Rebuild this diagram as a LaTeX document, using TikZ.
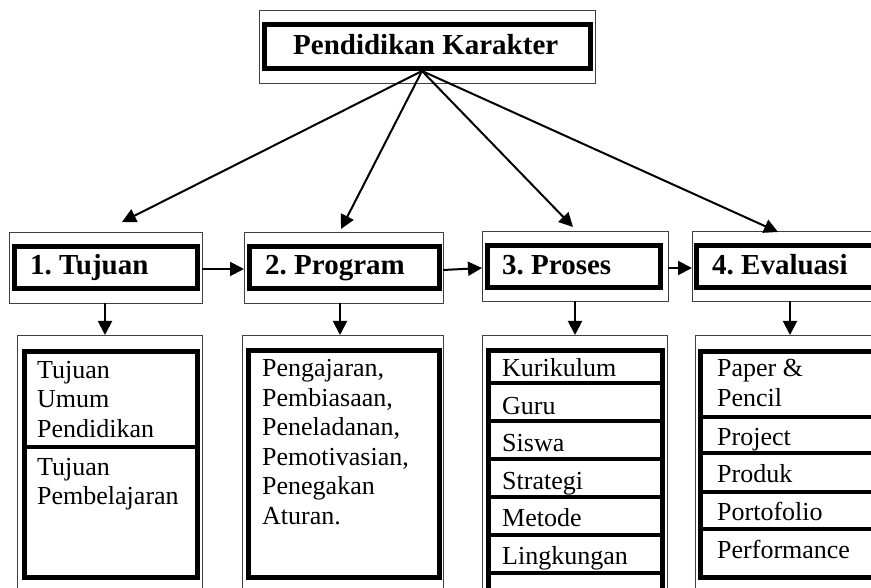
\documentclass[tikz,border=0pt]{standalone}
\usepackage{fontspec}
\setmainfont{Liberation Serif}
\frenchspacing
\usetikzlibrary{arrows.meta}
\tikzset{
  thinbox/.style={draw=black!75, line width=0.9pt, inner sep=0pt, outer sep=0pt},
  thickbox/.style={draw=black, line width=5pt, inner sep=0pt, outer sep=0pt},
  divline/.style={draw=black, line width=4.5pt},
  headtext/.style={inner sep=0pt, anchor=base west, font=\fontsize{29}{32}\selectfont\bfseries},
  bodytext/.style={inner sep=0pt, anchor=base west, font=\fontsize{26}{29.5}\selectfont},
  arr/.style={draw=black, line width=2pt, -{Triangle[length=14pt,width=14pt]}},
}
\begin{document}
\begin{tikzpicture}[x=1pt,y=-1pt]
\useasboundingbox (0,0) rectangle (871,588);
\clip (0,0) rectangle (871,588);
\fill[white] (0,0) rectangle (871,588);

% top box
\node[thinbox, minimum width=336pt, minimum height=73pt] (topo) at (427,46.5) {};
\node[thickbox, minimum width=326.5pt, minimum height=44pt] (topi) at (427.25,47) {};
\node[headtext] (toptxt) at (293,55) {Pendidikan Karakter};
\coordinate (tc) at (422,71);

% row of headings
\node[thinbox, minimum width=193pt, minimum height=71pt] (o1) at (105.5,267.5) {};
\node[thickbox, minimum width=183pt, minimum height=42pt] (i1) at (106,267.5) {};
\node[headtext] (h1) at (30,275) {1. Tujuan};

\node[thinbox, minimum width=199pt, minimum height=71pt] (o2) at (343.5,267.5) {};
\node[thickbox, minimum width=190pt, minimum height=42pt] (i2) at (344.5,267.5) {};
\node[headtext] (h2) at (265,275) {2. Program};

\node[thinbox, minimum width=186pt, minimum height=70pt] (o3) at (575,266) {};
\node[thickbox, minimum width=173pt, minimum height=42pt] (i3) at (574,266.5) {};
\node[headtext] (h3) at (502,275) {3. Proses};

\node[thinbox, minimum width=190pt, minimum height=70pt] (o4) at (787,266) {};
\node[thickbox, minimum width=190pt, minimum height=42pt] (i4) at (791,266.5) {};
\node[headtext] (h4) at (712,275) {4. Evaluasi};

% arrows from top
\coordinate (e1) at (122,222);
\coordinate (e2) at (341,229);
\coordinate (e3) at (573,227);
\coordinate (e4) at (778,232);
\draw[arr] (tc) -- (e1);
\draw[arr] (tc) -- (e2);
\draw[arr] (tc) -- (e3);
\draw[arr] (tc) -- (e4);

% horizontal arrows
\draw[arr] (o1.east |- 0,269) -- (o2.west |- 0,269);
\draw[arr] (o2.east |- 0,270) -- (o3.west |- 0,268);
\draw[arr] (o3.east |- 0,268) -- (o4.west |- 0,268);

% bottom boxes
\node[thinbox, minimum width=185pt, minimum height=265pt] (b1o) at (109.5,467.5) {};
\node[thickbox, minimum width=173pt, minimum height=226pt] (b1i) at (111,464.5) {};
\draw[divline] (b1i.west |- 0,447) -- (b1i.east |- 0,447);
\node[bodytext] (t1a) at (37,378) {\vtop{\hbox{Tujuan}\hbox{Umum}\hbox{Pendidikan}}};
\node[bodytext] (t1b) at (37,475) {\vtop{\hbox{Tujuan}\hbox{Pembelajaran}}};

\node[thinbox, minimum width=201pt, minimum height=265pt] (b2o) at (342.5,467.5) {};
\node[thickbox, minimum width=191pt, minimum height=227pt] (b2i) at (344,464) {};
\node[bodytext] (t2) at (262,377) {\vtop{\hbox{Pengajaran,}\hbox{Pembiasaan,}\hbox{Peneladanan,}\hbox{Pemotivasian,}\hbox{Penegakan}\hbox{Aturan.}}};

\node[thinbox, minimum width=185pt, minimum height=265pt] (b3o) at (574.5,467.5) {};
\node[thickbox, minimum width=174pt, minimum height=260pt] (b3i) at (575.5,480.5) {};
\foreach \yy in {383,421,459,497,535,573}
  \draw[divline] (b3i.west |- 0,\yy) -- (b3i.east |- 0,\yy);
\node[bodytext] (k1) at (502,377) {Kurikulum};
\node[bodytext] (k2) at (502,414) {Guru};
\node[bodytext] (k3) at (502,451.5) {Siswa};
\node[bodytext] (k4) at (502,489) {Strategi};
\node[bodytext] (k5) at (502,526.5) {Metode};
\node[bodytext] (k6) at (502,564) {Lingkungan};

\node[thinbox, minimum width=190pt, minimum height=265pt] (b4o) at (790,467.5) {};
\node[thickbox, minimum width=190pt, minimum height=226pt] (b4i) at (795.5,464.5) {};
\foreach \yy in {417,453,492,529}
  \draw[divline] (b4i.west |- 0,\yy) -- (b4i.east |- 0,\yy);
\node[bodytext] (p1) at (717,377) {\vtop{\hbox{Paper \&}\hbox{Pencil}}};
\node[bodytext] (p2) at (717,445) {Project};
\node[bodytext] (p3) at (717,482) {Produk};
\node[bodytext] (p4) at (717,520) {Portofolio};
\node[bodytext] (p5) at (717,558) {Performance};

% down arrows
\draw[arr] (o1.south -| 105,0) -- (b1o.north -| 105,0);
\draw[arr] (o2.south -| 340,0) -- (b2o.north -| 340,0);
\draw[arr] (o3.south -| 575,0) -- (b3o.north -| 575,0);
\draw[arr] (o4.south -| 790,0) -- (b4o.north -| 790,0);
\end{tikzpicture}
\end{document}
